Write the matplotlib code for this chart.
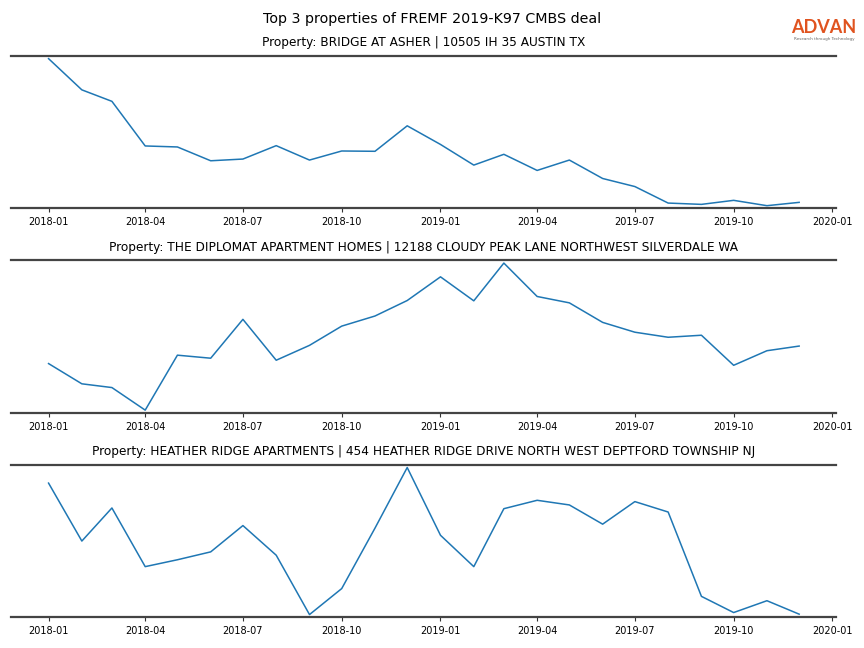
import matplotlib
matplotlib.use("Agg")
import matplotlib.pyplot as plt
import matplotlib.dates as mdates
import numpy as np
import pandas as pd

# monthly observations, arbitrary units (chart has no y scale)
months = pd.date_range("2018-01-01", "2019-12-01", freq="MS")

titles = [
    "Property: BRIDGE AT ASHER | 10505 IH 35 AUSTIN TX",
    "Property: THE DIPLOMAT APARTMENT HOMES | 12188 CLOUDY PEAK LANE NORTHWEST SILVERDALE WA",
    "Property: HEATHER RIDGE APARTMENTS | 454 HEATHER RIDGE DRIVE NORTH WEST DEPTFORD TOWNSHIP NJ",
]

bridge_asher = [147.7, 116.7, 105.3, 61.0, 60.0, 46.3, 48.0, 61.3, 47.0, 56.0, 55.7, 81.0,
                62.5, 42.0, 52.7, 36.7, 47.0, 28.7, 20.7, 4.3, 3.0, 7.0, 1.7, 5.0]
diplomat = [49.0, 29.0, 25.3, 3.0, 57.3, 54.3, 92.7, 52.3, 67.0, 86.0, 96.0, 111.3,
            134.7, 111.0, 148.3, 115.3, 109.0, 89.7, 80.0, 75.0, 77.0, 47.3, 61.7, 66.3]
heather_ridge = [134.3, 77.0, 109.7, 51.7, 58.5, 66.3, 92.3, 63.0, 4.3, 30.0, 89.8, 149.7,
                 82.7, 51.7, 109.0, 117.3, 112.7, 93.7, 116.0, 105.7, 22.3, 6.3, 18.0, 4.7]

series = [bridge_asher, diplomat, heather_ridge]

fig, axes = plt.subplots(3, 1, figsize=(8.64, 6.48), dpi=100)
fig.subplots_adjust(left=0.0127, right=0.9672, top=0.9136, bottom=0.0475, hspace=0.342)

for ax, title, vals in zip(axes, titles, series):
    ax.plot(months, vals, color="#1f77b4", linewidth=1.1)
    ax.set_title(title, fontsize=8.7, pad=7)
    ax.margins(y=0.018)
    ax.xaxis.set_major_locator(mdates.MonthLocator(bymonth=[1, 4, 7, 10]))
    ax.xaxis.set_major_formatter(mdates.DateFormatter("%Y-%m"))
    ax.set_xlim(pd.Timestamp("2017-11-27"), pd.Timestamp("2020-01-04"))
    ax.tick_params(axis="x", labelsize=7, length=3, width=0.8, color="#333333")
    ax.set_yticks([])
    for side in ["left", "right"]:
        ax.spines[side].set_visible(False)
    for side in ["top", "bottom"]:
        ax.spines[side].set_color("#444444")
        ax.spines[side].set_linewidth(1.6)

fig.suptitle("Top 3 properties of FREMF 2019-K97 CMBS deal", fontsize=10.3, y=0.981)

# logo
fig.text(0.9535, 0.949, "ADVAN", fontsize=13, color="#E0531F", ha="center",
         va="baseline", family="Lato", fontweight="bold")
fig.text(0.9535, 0.939, "Research through Technology", fontsize=3.0, color="#666666",
         ha="center", va="baseline")

fig.savefig("out.png", dpi=100)
